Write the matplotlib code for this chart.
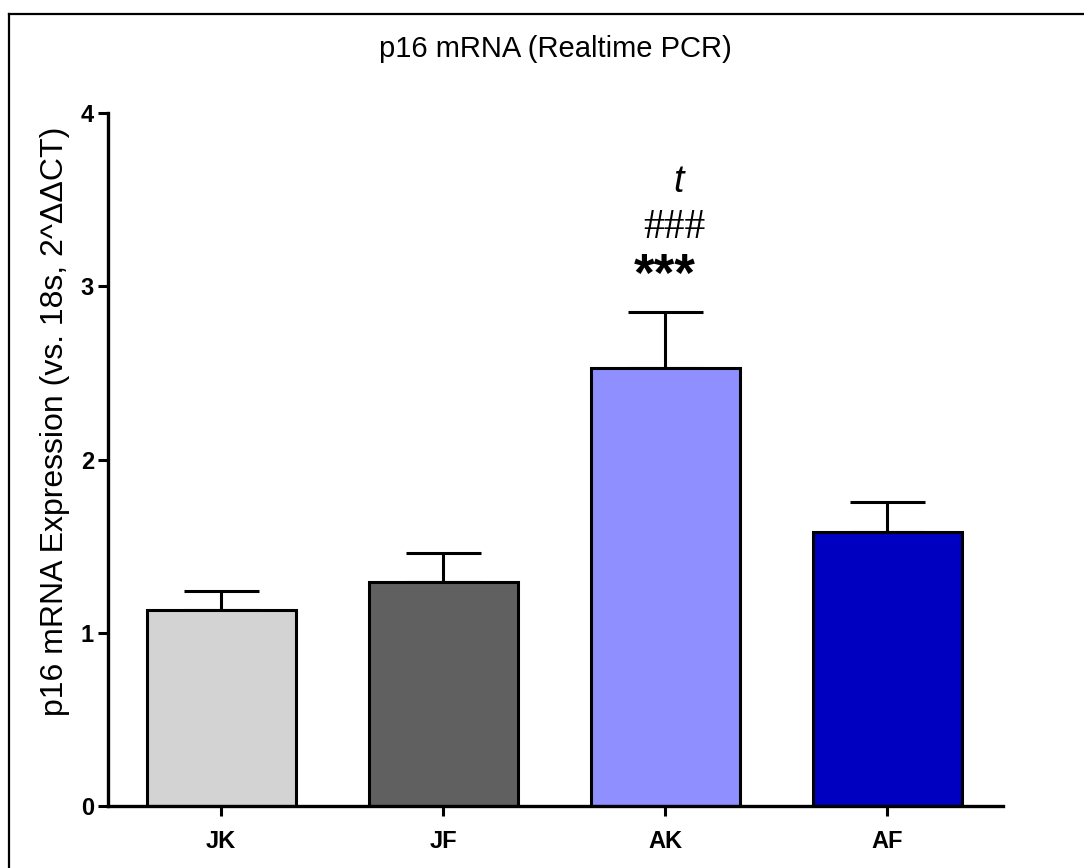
import matplotlib
matplotlib.use("Agg")
import matplotlib.pyplot as plt
from matplotlib.lines import Line2D

# ======= data =======
groups = ["JK", "JF", "AK", "AF"]
means = [1.134, 1.294, 2.53, 1.585]
sem = [0.111, 0.166, 0.32, 0.172]
colors = ["#D3D3D3", "#606060", "#8F8FFF", "#0000C0"]
y_ticks = [0, 1, 2, 3, 4]
sig_marks = ["***", "###", "t"]   # markers above AK

plt.rcParams["font.family"] = ["Liberation Sans", "DejaVu Sans"]

fig = plt.figure(figsize=(10.84, 8.68), dpi=100)
ax = fig.add_axes([0.0996, 0.0709, 0.8254, 0.7989])

x = list(range(len(groups)))
ax.bar(x, means, width=0.67, color=colors, edgecolor="black", linewidth=2.2, zorder=2)
ax.errorbar(x, means, yerr=[[0] * len(sem), sem], fmt="none", ecolor="black",
            elinewidth=2.2, capsize=27, capthick=2.2, zorder=1)

# ======= axes =======
ax.set_xlim(-0.51, 3.52)
ax.set_ylim(0, 4)
ax.set_yticks(y_ticks)
ax.set_xticks(x)
ax.set_xticklabels(groups, fontsize=17, fontweight="bold")
ax.set_yticklabels([str(t) for t in y_ticks], fontsize=17, fontweight="bold")
ax.tick_params(axis="both", direction="out", length=7, width=2.2, pad=3)
ax.tick_params(axis="x", pad=10)
for side in ["top", "right"]:
    ax.spines[side].set_visible(False)
for side in ["left", "bottom"]:
    ax.spines[side].set_linewidth(2.4)

ax.set_ylabel("p16 mRNA Expression (vs. 18s, 2^\u0394\u0394CT)", fontsize=23)
ax.yaxis.set_label_coords(-0.042, 0.556)   # label sits a bit above centre
ax.set_title("p16 mRNA (Realtime PCR)", fontsize=21, pad=40)

# ======= significance marks =======
top = means[2] + sem[2]
ax.text(2.0, top + 0.06, sig_marks[0], ha="center", va="bottom", fontsize=38, fontweight="bold")
ax.text(2.04, top + 0.49, sig_marks[1], ha="center", va="center", fontsize=30,
        family=["Liberation Serif"])
ax.text(2.06, top + 0.75, sig_marks[2], ha="center", va="center", fontsize=27, style="italic")

# ======= outer frame (cropped at right/bottom) =======
fl = 9 / 1084
ft = 1 - 14 / 868
fig.add_artist(Line2D([fl, fl], [-0.1, ft], transform=fig.transFigure, color="black", linewidth=1.6))
fig.add_artist(Line2D([fl, 1.1], [ft, ft], transform=fig.transFigure, color="black", linewidth=1.6))

fig.savefig("out.png", dpi=100)
